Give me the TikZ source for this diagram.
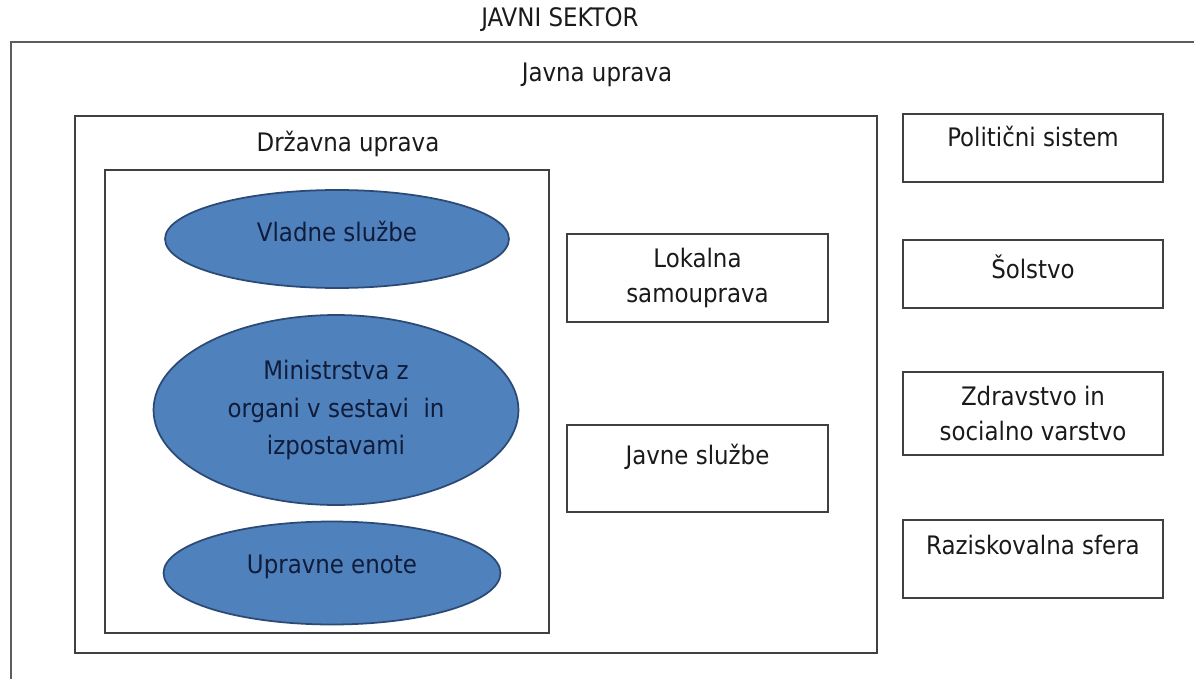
\documentclass[tikz,border=0pt]{standalone}
\usepackage{fontspec}
\setmainfont{DejaVu Sans Condensed}
\usepackage{tikz}
\usetikzlibrary{shapes.geometric}
\usetikzlibrary{positioning}
\definecolor{ovalfill}{RGB}{79,129,189}
\definecolor{ovalline}{RGB}{44,74,118}
\definecolor{ovaltext}{RGB}{16,28,58}
\definecolor{boxline}{RGB}{64,64,64}
\definecolor{textgray}{RGB}{26,26,26}

\begin{document}
\begin{tikzpicture}[x=0.02cm,y=-0.02cm,
		node distance=1.2cm,
		font=\fontsize{14.5}{20}\selectfont,text=textgray,
		frame/.style={draw=boxline,line width=1.1pt,inner sep=0pt},
		side box/.style={frame,minimum width=5.2cm,align=center},
		oval/.style={ellipse,draw=ovalline,fill=ovalfill,line width=1pt,
			inner sep=0pt,align=center,text=ovaltext}]
	\useasboundingbox (0,0) rectangle (1194,679);
	
	% javni sektor
	\draw[draw=boxline!85,line width=1.1pt] (11,679) -- (11,42) -- (1194,42);
	\node (JS) at (560,20) {JAVNI SEKTOR};
	
	% javna uprava
	\node[frame,minimum width=16.04cm,minimum height=10.74cm] (JU) at (476,384.5) {};
	\node (JUt) at (597,75) {Javna uprava};
	
	% drzavna uprava
	\node (DUt) at (348,144) {Državna uprava};
	\node[frame,minimum width=8.88cm,minimum height=9.26cm] (DU) at (327,401.5) {};
	\node[oval,minimum width=6.88cm,minimum height=1.96cm,text depth=0.31cm] (VS) at (337,239) {Vladne službe};
	\node[oval,minimum width=7.3cm,minimum height=3.8cm,font=\fontsize{14.5}{21.5}\selectfont] (MIN) at (336,410)
		{Ministrstva z\\organi v sestavi~ in\\izpostavami};
	\node[oval,minimum width=6.74cm,minimum height=2.06cm,text depth=0.35cm] (UE) at (332,573) {Upravne enote};
	
	\node[frame,minimum width=5.22cm,minimum height=1.76cm,align=center] (LS) at (697.5,278)
		{Lokalna\\samouprava};
	\node[frame,text depth=0.55cm,minimum width=5.22cm,minimum height=1.74cm] (JSL) at (697.5,468.5)
		{Javne službe};
	
	% ostalo
	\node[side box,text depth=0.45cm,minimum height=1.36cm] (PS) at (1033,148) {Politični sistem};
	\node[side box,text depth=0.3cm,minimum height=1.36cm,below=1.12cm of PS] (SOL) {Šolstvo};
	\node[side box,minimum height=1.66cm,below=1.24cm of SOL] (ZDR) {Zdravstvo in\\socialno varstvo};
	\node[side box,text depth=0.55cm,minimum height=1.56cm,below=1.26cm of ZDR] (RAZ) {Raziskovalna sfera};
\end{tikzpicture}
\end{document}
